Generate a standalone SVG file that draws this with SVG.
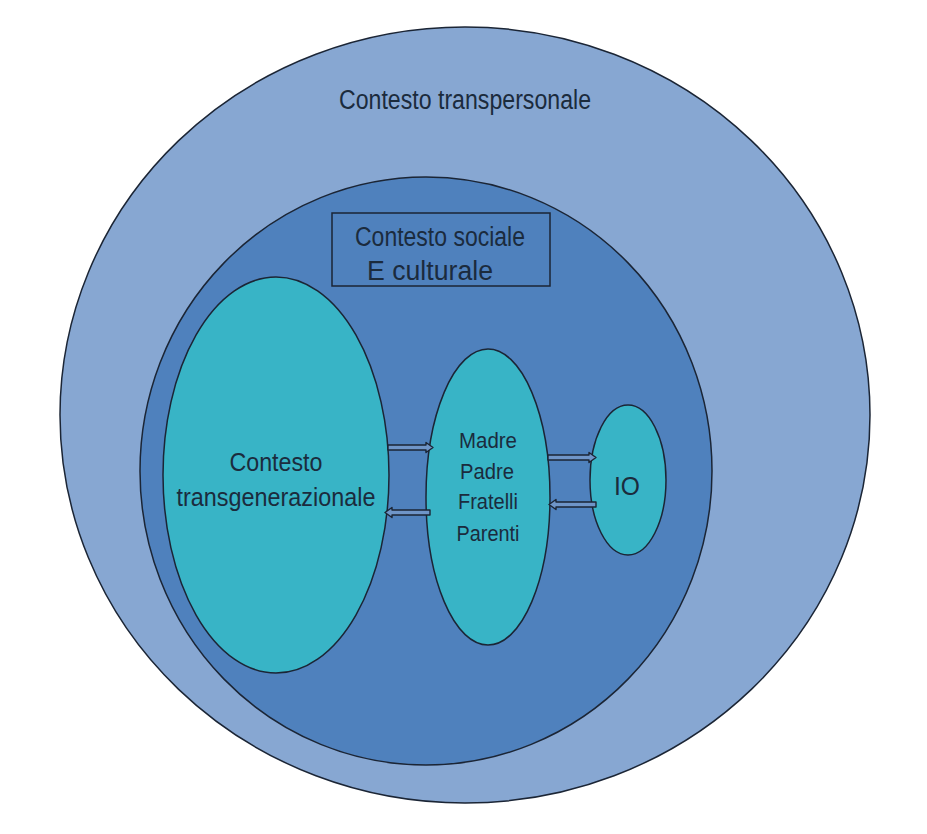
<svg xmlns="http://www.w3.org/2000/svg" width="927" height="834" viewBox="0 0 927 834">
<style>
.t{font-family:"Liberation Sans",Arial,sans-serif;fill:#1b2b3d;text-anchor:middle}
.ln{stroke:#1b2535;stroke-width:1.5}
.arr{fill:#6f95c8;stroke:#1b2535;stroke-width:1.4;stroke-linejoin:round}
</style>
<rect width="927" height="834" fill="#ffffff"/>
<g id="transpersonale">
<ellipse cx="465" cy="415" rx="405" ry="388" fill="#87a7d2" class="ln"/>
<text class="t" x="465" y="109" font-size="27" textLength="252" lengthAdjust="spacingAndGlyphs">Contesto transpersonale</text>
</g>
<g id="sociale">
<ellipse cx="426" cy="471" rx="286" ry="294" fill="#4f81bd" class="ln"/>
</g>
<g id="sociale-label">
<rect x="332" y="213" width="218" height="73" fill="#4f81bd" class="ln"/>
<text class="t" x="440" y="246" font-size="27" textLength="170" lengthAdjust="spacingAndGlyphs">Contesto sociale</text>
<text class="t" x="430" y="280" font-size="27" textLength="126" lengthAdjust="spacingAndGlyphs">E culturale</text>
</g>
<g id="transgenerazionale">
<ellipse cx="276" cy="475" rx="113" ry="198" fill="#38b4c6" class="ln"/>
<text class="t" x="276" y="471" font-size="26" textLength="93" lengthAdjust="spacingAndGlyphs">Contesto</text>
<text class="t" x="276" y="506" font-size="26" textLength="199" lengthAdjust="spacingAndGlyphs">transgenerazionale</text>
</g>
<g id="famiglia">
<ellipse cx="488" cy="497" rx="62" ry="148" fill="#38b4c6" class="ln"/>
<text class="t" x="488" y="448" font-size="22" textLength="58" lengthAdjust="spacingAndGlyphs">Madre</text>
<text class="t" x="487" y="479" font-size="22" textLength="54" lengthAdjust="spacingAndGlyphs">Padre</text>
<text class="t" x="488" y="509" font-size="22" textLength="60" lengthAdjust="spacingAndGlyphs">Fratelli</text>
<text class="t" x="488" y="541" font-size="22" textLength="63" lengthAdjust="spacingAndGlyphs">Parenti</text>
</g>
<g id="io">
<ellipse cx="628" cy="480" rx="38" ry="75" fill="#38b4c6" class="ln"/>
<text class="t" x="627" y="495" font-size="25" textLength="26" lengthAdjust="spacingAndGlyphs">IO</text>
</g>
<g id="connectors">
<path class="arr" d="M388,445 H426 V442.5 L433,447.5 L426,452.5 V450 H388 Z"/>
<path class="arr" d="M430,510 H392 V507.5 L385,512.5 L392,517.5 V515 H430 Z"/>
<path class="arr" d="M548,455 H589 V452.5 L596,457.5 L589,462.5 V460 H548 Z"/>
<path class="arr" d="M596,502 H556 V499.5 L549,504.5 L556,509.5 V507 H596 Z"/>
</g>
</svg>
